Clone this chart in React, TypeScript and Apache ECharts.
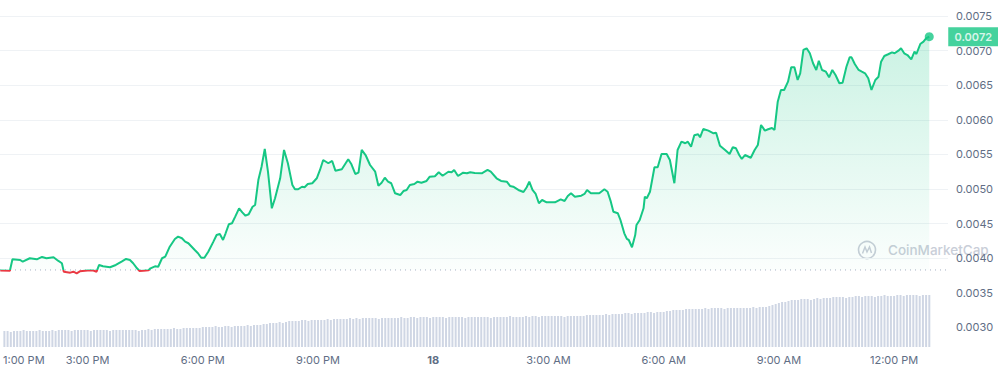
import React, { useEffect, useRef } from "react";
import * as echarts from "echarts";

// minutes since 12:00 PM (day 17)
const priceMinutes = [
  48, 63, 67, 79, 83, 94, 105, 113, 120, 131,
  138, 144, 147, 157, 162, 167, 172, 184, 193, 198,
  202, 208, 219, 228, 237, 244, 250, 255, 261, 265,
  271, 279, 282, 289, 294, 300, 305, 312, 320, 325,
  331, 336, 341, 351, 356, 361, 366, 372, 380, 385,
  390, 395, 399, 404, 409, 414, 420, 425, 430, 435,
  441, 445, 450, 455, 460, 465, 471, 476, 484, 490,
  496, 503, 507, 512, 518, 522, 527, 534, 541, 546,
  551, 559, 565, 570, 580, 585, 590, 595, 601, 606,
  611, 617, 624, 632, 637, 642, 647, 652, 657, 663,
  671, 676, 681, 686, 693, 698, 704, 712, 717, 725,
  731, 737, 746, 751, 755, 761, 769, 775, 780, 787,
  798, 807, 812, 821, 828, 837, 842, 847, 855, 863,
  868, 872, 877, 882, 887, 892, 899, 912, 921, 927,
  932, 937, 943, 953, 958, 962, 968, 981, 989, 994,
  999, 1003, 1010, 1014, 1020, 1024, 1027, 1032, 1037, 1039,
  1044, 1050, 1052, 1055, 1060, 1067, 1072, 1078, 1086, 1091,
  1098, 1103, 1109, 1115, 1119, 1124, 1129, 1135, 1138, 1143,
  1151, 1159, 1163, 1169, 1177, 1184, 1189, 1194, 1199, 1203,
  1208, 1217, 1223, 1228, 1233, 1239, 1244, 1250, 1254, 1259,
  1264, 1269, 1275, 1280, 1285, 1290, 1294, 1299, 1304, 1309,
  1314, 1319, 1323, 1328, 1334, 1339, 1344, 1349, 1355, 1360,
  1366, 1371, 1374, 1379, 1385, 1390, 1395, 1400, 1405, 1411,
  1416, 1420, 1425, 1431, 1437, 1441, 1447, 1451, 1456, 1461,
  1467, 1472, 1475, 1481, 1486, 1490, 1495,
];

const priceValues = [
  0.003822, 0.003818, 0.003984, 0.003974, 0.00395, 0.003999, 0.003984, 0.004018, 0.003999, 0.004013,
  0.003964, 0.003927, 0.003805, 0.003791, 0.003805, 0.003782, 0.003811, 0.003822, 0.003822, 0.003805,
  0.003902, 0.003883, 0.003869, 0.003902, 0.00395, 0.003989, 0.003974, 0.003927, 0.003854, 0.003816,
  0.00382, 0.003825, 0.003854, 0.003883, 0.003877, 0.003999, 0.004022, 0.004166, 0.004278, 0.004311,
  0.004288, 0.004239, 0.004216, 0.004119, 0.004071, 0.004007, 0.004007, 0.004094, 0.004239, 0.004335,
  0.00435, 0.004263, 0.00436, 0.00449, 0.004505, 0.0046, 0.004721, 0.004663, 0.004614, 0.004635,
  0.004744, 0.004769, 0.00513, 0.005322, 0.005578, 0.00525, 0.004721, 0.004866, 0.005155, 0.005564,
  0.005372, 0.005058, 0.004996, 0.004996, 0.005033, 0.005025, 0.005072, 0.005083, 0.005155, 0.005275,
  0.005419, 0.005372, 0.005405, 0.005265, 0.005285, 0.005357, 0.005429, 0.005357, 0.005217, 0.005236,
  0.005564, 0.005491, 0.005347, 0.00525, 0.005048, 0.005091, 0.005163, 0.005106, 0.005083, 0.004938,
  0.004913, 0.004971, 0.004986, 0.005058, 0.005072, 0.005106, 0.005091, 0.005116, 0.005178, 0.005184,
  0.005242, 0.005192, 0.00525, 0.005242, 0.005275, 0.005188, 0.005236, 0.005227, 0.005242, 0.005231,
  0.005227, 0.005275, 0.00525, 0.005155, 0.005116, 0.005106, 0.005044, 0.005033, 0.004986, 0.004957,
  0.005025, 0.005106, 0.004986, 0.004928, 0.004794, 0.004841, 0.004808, 0.004808, 0.004851, 0.004827,
  0.004899, 0.004938, 0.004889, 0.004903, 0.004928, 0.004986, 0.004938, 0.004938, 0.004996, 0.004961,
  0.004817, 0.004672, 0.004649, 0.004552, 0.00436, 0.004278, 0.004263, 0.004158, 0.004335, 0.00448,
  0.004552, 0.004721, 0.004889, 0.004866, 0.004961, 0.005314, 0.005314, 0.005506, 0.005506, 0.005419,
  0.005083, 0.005564, 0.005684, 0.005661, 0.005684, 0.005611, 0.005776, 0.005791, 0.005747, 0.005867,
  0.005843, 0.005805, 0.005814, 0.005626, 0.005564, 0.005506, 0.005603, 0.005588, 0.005491, 0.005434,
  0.005491, 0.005452, 0.005564, 0.005636, 0.005925, 0.005843, 0.005863, 0.005882, 0.005853, 0.006262,
  0.006431, 0.006431, 0.006551, 0.006759, 0.006759, 0.006575, 0.006672, 0.007009, 0.007033, 0.006961,
  0.006817, 0.00672, 0.006854, 0.00672, 0.006695, 0.006614, 0.00672, 0.006647, 0.006528, 0.006536,
  0.006767, 0.006903, 0.006903, 0.006806, 0.00672, 0.006695, 0.006672, 0.0066, 0.006431, 0.006575,
  0.006623, 0.00684, 0.006922, 0.006947, 0.006975, 0.006961, 0.006999, 0.007033, 0.006961, 0.006936,
  0.006874, 0.006984, 0.006951, 0.007095, 0.007129, 0.007178, 0.007201,
];

// 5-minute volume bars (relative units)
const volumeStart = 50;
const volumeStep = 5;
const volumeValues = [
  16, 16, 15, 16, 16, 16, 17, 16, 16, 16,
  16, 17, 16, 16, 16, 17, 16, 17, 17, 17,
  17, 16, 17, 17, 17, 17, 17, 16, 17, 17,
  17, 17, 17, 16, 17, 17, 17, 17, 17, 17,
  17, 17, 16, 17, 17, 18, 17, 18, 18, 18,
  18, 18, 18, 19, 18, 18, 19, 19, 19, 19,
  19, 19, 20, 20, 20, 20, 21, 20, 20, 21,
  21, 20, 21, 21, 21, 21, 22, 21, 22, 22,
  22, 23, 23, 24, 24, 24, 25, 24, 25, 26,
  26, 26, 26, 27, 27, 26, 27, 27, 27, 27,
  27, 28, 27, 28, 28, 28, 28, 28, 29, 28,
  29, 28, 29, 29, 29, 29, 29, 28, 29, 29,
  29, 29, 29, 29, 30, 29, 29, 30, 30, 29,
  30, 30, 30, 29, 30, 30, 30, 30, 29, 30,
  30, 30, 30, 30, 29, 30, 30, 30, 30, 30,
  30, 30, 29, 30, 30, 30, 30, 30, 31, 30,
  30, 30, 30, 31, 30, 31, 31, 30, 31, 31,
  31, 31, 31, 31, 31, 30, 31, 31, 31, 31,
  31, 31, 32, 32, 32, 32, 32, 32, 33, 32,
  33, 33, 33, 33, 34, 34, 33, 34, 34, 34,
  34, 35, 35, 34, 35, 35, 35, 36, 36, 37,
  37, 37, 37, 38, 38, 38, 38, 38, 38, 39,
  38, 39, 39, 39, 39, 38, 39, 39, 39, 39,
  39, 39, 39, 39, 40, 39, 40, 40, 40, 41,
  42, 43, 44, 45, 45, 46, 47, 47, 47, 48,
  48, 48, 47, 48, 49, 48, 49, 49, 49, 50,
  50, 50, 50, 49, 50, 50, 51, 51, 50, 51,
  51, 51, 50, 51, 51, 52, 51, 51, 51, 52,
  52, 51, 52, 52, 52, 52, 51, 52, 52, 52,
];

const timeTicks = [60, 180, 360, 540, 720, 900, 1080, 1260, 1440];
const timeLabels = ["1:00 PM", "3:00 PM", "6:00 PM", "9:00 PM", "18", "3:00 AM", "6:00 AM", "9:00 AM", "12:00 PM"];

const openPrice = 0.00383;
const xMin = 47.6;
const xMax = 1524.2;

const GREEN = "#16c784";
const RED = "#ea3943";
const LABEL = "#616e85";
const GRID = "#eff2f5";

export default function App() {
  const ref = useRef<HTMLDivElement>(null);

  useEffect(() => {
    if (!ref.current) return;
    const chart = echarts.init(ref.current, null, { renderer: "svg" });

    const priceData = priceMinutes.map((m, i) => [m, priceValues[i]]);
    const volumeData = volumeValues.map((v, i) => [volumeStart + i * volumeStep, v]);
    const lastT = priceMinutes[priceMinutes.length - 1];
    const lastV = priceValues[priceValues.length - 1];
    const pMax = Math.max(...priceValues);
    const pMin = Math.min(...priceValues);
    const cut = Math.min(1, Math.max(0, (pMax - openPrice) / (pMax - pMin)));

    const lineColor = new echarts.graphic.LinearGradient(0, 0, 0, 1, [
      { offset: 0, color: GREEN },
      { offset: cut, color: GREEN },
      { offset: cut, color: RED },
      { offset: 1, color: RED },
    ]);

    const option: any = {
      animation: false,
      textStyle: { fontFamily: "Inter, sans-serif" },
      grid: [
        { left: 0, width: 948, top: 16, bottom: 9 },
        { left: 0, width: 948, top: 287, bottom: 24 },
      ],
      xAxis: [
        { type: "value", gridIndex: 0, min: xMin, max: xMax, show: false },
        {
          type: "value",
          gridIndex: 1,
          min: xMin,
          max: xMax,
          axisLine: { show: false },
          axisTick: { show: false },
          splitLine: { show: false },
          axisLabel: {
            customValues: timeTicks,
            margin: 7,
            fontSize: 11,
            color: LABEL,
            formatter: (v: number) => {
              const i = timeTicks.indexOf(Math.round(v));
              if (i < 0) return "";
              if (i === 0) return "{first|" + timeLabels[i] + "}";
              if (timeLabels[i] === "18") return "{day|" + timeLabels[i] + "}";
              return timeLabels[i];
            },
            rich: {
              first: { padding: [0, 0, 0, 26], fontSize: 11, color: LABEL },
              day: { fontWeight: "bold", fontSize: 11, color: LABEL },
            },
          },
        },
      ],
      yAxis: [
        {
          type: "value",
          gridIndex: 0,
          position: "right",
          min: 0.0025,
          max: 0.0075,
          interval: 0.0005,
          axisLine: { show: false },
          axisTick: { show: false },
          axisLabel: {
            showMinLabel: false,
            margin: 8,
            fontSize: 11,
            color: LABEL,
            formatter: (v: number) => v.toFixed(4),
          },
          splitLine: {
            show: true,
            lineStyle: {
              width: 1,
              color: [
                "rgba(0,0,0,0)", "rgba(0,0,0,0)", "rgba(0,0,0,0)",
                GRID, GRID, GRID, GRID, GRID, GRID, GRID, GRID,
              ],
            },
          },
        },
        { type: "value", gridIndex: 1, min: 0, max: 60, show: false },
      ],
      series: [
        {
          type: "line",
          xAxisIndex: 0,
          yAxisIndex: 0,
          data: priceData,
          showSymbol: false,
          lineStyle: { width: 2, color: lineColor },
          itemStyle: { color: GREEN },
          z: 4,
          silent: true,
        },
        {
          type: "line",
          xAxisIndex: 0,
          yAxisIndex: 0,
          data: priceData,
          showSymbol: false,
          lineStyle: { width: 0, opacity: 0 },
          areaStyle: {
            origin: openPrice,
            color: new echarts.graphic.LinearGradient(0, 0, 0, 1, [
              { offset: 0, color: "rgba(22,199,132,0.32)" },
              { offset: 1, color: "rgba(22,199,132,0.02)" },
            ]),
          },
          z: 2,
          silent: true,
        },
        {
          type: "line",
          xAxisIndex: 0,
          yAxisIndex: 0,
          data: [
            [xMin, openPrice],
            [xMax, openPrice],
          ],
          showSymbol: false,
          lineStyle: { type: [1, 4], color: "#a6b0c3", width: 1 },
          z: 3,
          silent: true,
        },
        {
          type: "scatter",
          xAxisIndex: 0,
          yAxisIndex: 0,
          data: [[lastT, lastV]],
          symbolSize: 9,
          itemStyle: { color: GREEN },
          z: 5,
        },
        {
          type: "scatter",
          xAxisIndex: 0,
          yAxisIndex: 0,
          data: [{ value: [lastT, lastV] }],
          symbol: "rect",
          symbolSize: [50, 19],
          symbolOffset: [44, 0],
          itemStyle: { color: GREEN },
          clip: false,
          label: {
            show: true,
            position: "inside",
            color: "#ffffff",
            fontSize: 11,
            fontWeight: 600,
            formatter: (p: any) => Number(p.value[1]).toFixed(4),
          },
          z: 6,
        },
        {
          type: "bar",
          xAxisIndex: 1,
          yAxisIndex: 1,
          data: volumeData,
          barWidth: 2,
          itemStyle: { color: "#cfd6e4" },
          silent: true,
        },
      ],
      graphic: [
        {
          type: "group",
          left: 856,
          top: 239,
          silent: true,
          children: [
            {
              type: "circle",
              shape: { cx: 9, cy: 9, r: 8.5 },
              style: { fill: "none", stroke: "#c9ced8", lineWidth: 1.6 },
            },
            {
              type: "polyline",
              shape: { points: [[4.5, 12.5], [7, 6], [9, 11], [11.5, 6], [13.5, 12]] },
              style: { fill: "none", stroke: "#c9ced8", lineWidth: 1.5 },
            },
            {
              type: "text",
              x: 30,
              y: 9,
              style: {
                text: "CoinMarketCap",
                fill: "#c9ced8",
                fontSize: 13.5,
                fontWeight: 500,
                fontFamily: "Inter, sans-serif",
                verticalAlign: "middle",
              },
            },
          ],
        },
      ],
    };

    chart.setOption(option);
    return () => chart.dispose();
  }, []);

  return (
    <div
      ref={ref}
      style={{ position: "fixed", left: 0, top: 0, width: 998, height: 371, background: "#ffffff" }}
    />
  );
}
